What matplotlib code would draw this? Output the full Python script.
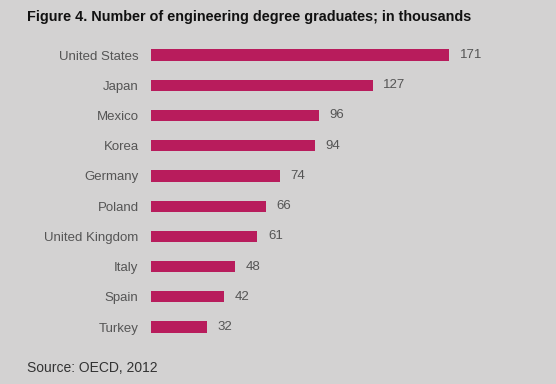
import matplotlib
matplotlib.use("Agg")
import matplotlib.pyplot as plt

plt.rcParams['font.family'] = ['Liberation Sans', 'DejaVu Sans']

countries = ["United States", "Japan", "Mexico", "Korea", "Germany",
             "Poland", "United Kingdom", "Italy", "Spain", "Turkey"]
graduates = [171, 127, 96, 94, 74, 66, 61, 48, 42, 32]

bg = "#d3d2d2"
bar_color = "#b81c5c"
text_gray = "#555555"

fig = plt.figure(figsize=(5.56, 3.84), dpi=100, facecolor=bg)
ax = fig.add_axes([0.2716, 0.109, 0.678, 0.787], facecolor=bg)

ypos = list(range(len(countries)))
ax.barh(ypos, graduates, height=0.37, color=bar_color)

for y, v in zip(ypos, graduates):
    ax.text(v + 6, y, str(v), va="center", ha="left", fontsize=9.5, color=text_gray)

ax.set_yticks(ypos)
ax.set_yticklabels(countries, fontsize=9.5, color=text_gray)
ax.tick_params(axis="y", length=0, pad=9)
ax.set_xticks([])
ax.set_ylim(len(countries) - 0.5, -0.5)
ax.set_xlim(0, 216)
for s in ax.spines.values():
    s.set_visible(False)

fig.text(27 / 556, 1 - 17 / 384, "Figure 4. Number of engineering degree graduates; in thousands",
         fontsize=10.4, fontweight="bold", color="#111111", va="center", ha="left")
fig.text(27 / 556, 1 - 368 / 384, "Source: OECD, 2012",
         fontsize=10, color="#333333", va="center", ha="left")

fig.savefig("out.png", dpi=100, facecolor=bg)
